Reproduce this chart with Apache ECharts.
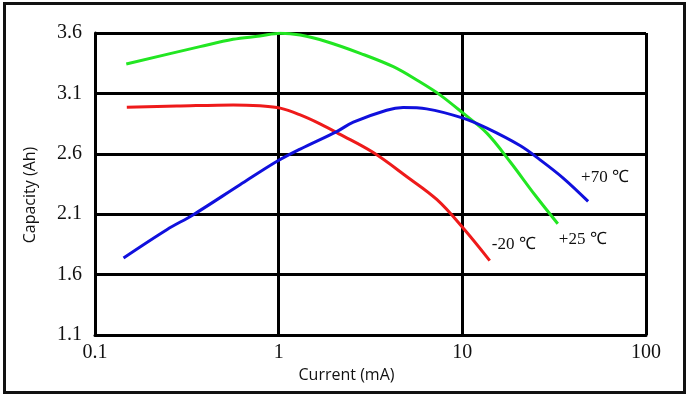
<!DOCTYPE html>
<html>
<head>
<meta charset="utf-8">
<script src="https://cdn.jsdelivr.net/npm/echarts@6/dist/echarts.min.js"></script>
<style>
html,body{margin:0;padding:0;background:#fff;}
#c{width:689px;height:396px;}
</style>
</head>
<body>
<div id="c"></div>
<script>
// Data: [current mA, capacity Ah]
const seriesNames = ['-20 ℃', '+25 ℃', '+70 ℃'];
const red20 = [[0.149,2.986],[0.279,2.995],[0.566,3.005],[0.79,2.997],[1.02,2.978],[1.31,2.922],[1.68,2.848],[2.16,2.761],[3.26,2.612],[4.99,2.41],[7.28,2.22],[10.07,1.988],[14.1,1.716]];
const green25 = [[0.148,3.344],[0.373,3.487],[0.564,3.548],[0.79,3.575],[1.02,3.598],[1.31,3.583],[1.83,3.528],[2.78,3.432],[4.21,3.321],[5.83,3.198],[7.55,3.088],[10.1,2.936],[13.6,2.771],[18.2,2.534],[24.8,2.261],[33.1,2.021]];
const blue70 = [[0.143,1.738],[0.246,1.972],[0.343,2.096],[0.616,2.344],[0.975,2.536],[1.31,2.639],[2.07,2.784],[2.55,2.862],[3.87,2.961],[4.76,2.983],[6.39,2.972],[10.1,2.895],[13.6,2.812],[20.6,2.668],[26.5,2.55],[35.4,2.399],[48.4,2.206]];
const yTicks = [1.1, 1.6, 2.1, 2.6, 3.1, 3.6];
const xName = 'Current (mA)';
const yName = 'Capacity (Ah)';

const chart = echarts.init(document.getElementById('c'), null, {renderer:'canvas'});
const serif = '"Liberation Serif", "Times New Roman", serif';
const sans = '"Open Sans", "Noto Sans", sans-serif';
function mk(name, data, color, offset){
  return {
    name: name, type:'line', data:data, smooth:0.35, symbol:'none',
    lineStyle:{color:color, width:3}, itemStyle:{color:color},
    endLabel:{show:true, formatter:name, color:'#111', fontFamily:serif, fontSize:17, distance:0, offset:offset},
    z:3
  };
}
chart.setOption({
  animation:false,
  backgroundColor:'#fff',
  graphic:[{type:'rect', shape:{x:4.5,y:3.5,width:680,height:389}, style:{fill:null, stroke:'#111', lineWidth:3}, silent:true}],
  grid:{left:95, right:43, top:33, bottom:61},
  xAxis:{
    type:'log', logBase:10, min:0.1, max:100,
    name:xName, nameLocation:'middle', nameGap:26,
    nameTextStyle:{fontFamily:sans, fontSize:16, color:'#111', padding:[0,48,0,0]},
    axisLine:{show:true, lineStyle:{color:'#000', width:3}},
    axisTick:{show:false}, minorTick:{show:false},
    splitLine:{show:true, lineStyle:{color:'#000', width:3}},
    axisLabel:{fontFamily:serif, fontSize:20, color:'#111', margin:8,
      formatter:function(v){return String(v);}}
  },
  yAxis:{
    type:'value', min:yTicks[0], max:yTicks[yTicks.length-1], interval:0.5,
    name:yName, nameLocation:'middle', nameGap:57,
    nameTextStyle:{fontFamily:sans, fontSize:16, color:'#111', padding:[0,22,0,0]},
    axisLine:{show:true, lineStyle:{color:'#000', width:3}},
    axisTick:{show:false},
    splitLine:{show:true, lineStyle:{color:'#000', width:3}},
    axisLabel:{fontFamily:serif, fontSize:20, color:'#111', margin:13,
      formatter:function(v){return v.toFixed(1);}}
  },
  series:[
    mk(seriesNames[0], red20, '#ee1a1a', [2,-16]),
    mk(seriesNames[1], green25, '#22e622', [1,16]),
    mk(seriesNames[2], blue70, '#1010dd', [-7,-24])
  ]
});
</script>
</body>
</html>
